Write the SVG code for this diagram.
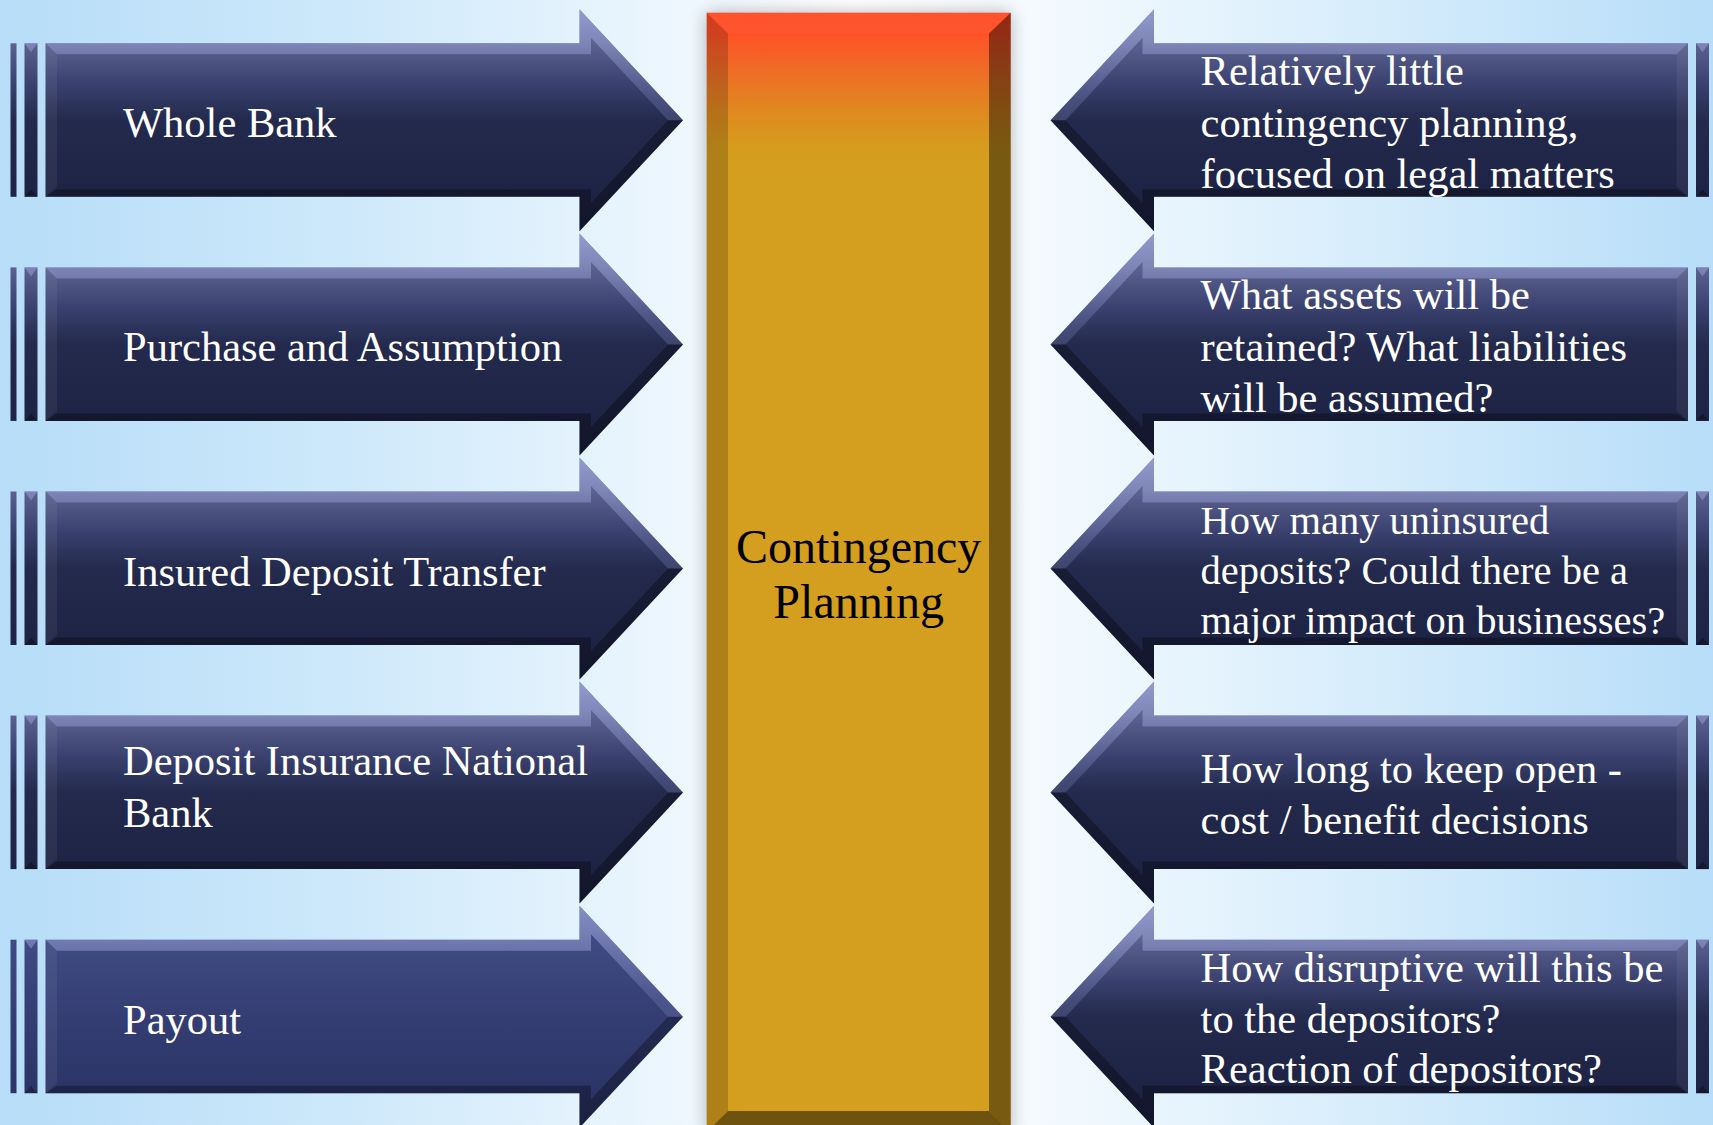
<svg xmlns="http://www.w3.org/2000/svg" xmlns:xlink="http://www.w3.org/1999/xlink" width="1713" height="1125" viewBox="0 0 1713 1125">
<style>
.lbl{font-family:"Liberation Serif","Times New Roman",serif;font-size:42.5px;fill:#FFFFFF}
.sm{font-size:40.5px}
.ctr{font-family:"Liberation Serif","Times New Roman",serif;font-size:48px;fill:#000000;text-anchor:middle}
.lit{fill:url(#gLit)}
.side{fill:#FFFFFF;fill-opacity:0.06}
.dark{fill:#000000;fill-opacity:0.3}
</style>
<defs>
  <linearGradient id="gBg" x1="0" y1="0" x2="1" y2="0">
    <stop offset="0" stop-color="#B7DDF8"/>
    <stop offset="0.2" stop-color="#CDE8FA"/>
    <stop offset="0.4" stop-color="#EEF7FE"/>
    <stop offset="0.5" stop-color="#FFFFFF"/>
    <stop offset="0.62" stop-color="#F2F9FE"/>
    <stop offset="0.82" stop-color="#D3EBFB"/>
    <stop offset="1" stop-color="#B7DDF8"/>
  </linearGradient>
  <linearGradient id="gA" gradientUnits="userSpaceOnUse" x1="0" y1="-34" x2="0" y2="188">
    <stop offset="0" stop-color="#727AAD"/>
    <stop offset="0.153" stop-color="#5B628F"/>
    <stop offset="0.33" stop-color="#3B4270"/>
    <stop offset="0.5" stop-color="#232A4D"/>
    <stop offset="1" stop-color="#1B2040"/>
  </linearGradient>
  <linearGradient id="gP" gradientUnits="userSpaceOnUse" x1="0" y1="-34" x2="0" y2="188">
    <stop offset="0" stop-color="#505B94"/>
    <stop offset="0.153" stop-color="#404B83"/>
    <stop offset="0.5" stop-color="#343E73"/>
    <stop offset="1" stop-color="#283060"/>
  </linearGradient>
  <linearGradient id="gLit" gradientUnits="userSpaceOnUse" x1="0" y1="-34" x2="0" y2="60">
    <stop offset="0" stop-color="#A9B1E2" stop-opacity="0.6"/>
    <stop offset="0.36" stop-color="#9AA2D6" stop-opacity="0.55"/>
    <stop offset="1" stop-color="#7C85BC" stop-opacity="0.3"/>
  </linearGradient>
  <linearGradient id="gFace" gradientUnits="userSpaceOnUse" x1="0" y1="12.7" x2="0" y2="1132">
    <stop offset="0" stop-color="#FF4A25"/>
    <stop offset="0.018" stop-color="#FF5026"/>
    <stop offset="0.051" stop-color="#EF6C27"/>
    <stop offset="0.087" stop-color="#E0881F"/>
    <stop offset="0.118" stop-color="#D69B1E"/>
    <stop offset="0.136" stop-color="#D49E1E"/>
    <stop offset="1" stop-color="#D49E1E"/>
  </linearGradient>
  <filter id="shadow" x="-20%" y="-5%" width="140%" height="110%">
    <feGaussianBlur stdDeviation="9"/>
  </filter>
  <g id="arrow">
    <rect x="10.5" y="0" width="6" height="153.5"/>
    <rect x="24.5" y="0" width="13" height="153.5"/>
    <path d="M24.5,0 H37.5 L31,9 Z" class="lit"/>
    <path d="M24.5,153.5 H37.5 L31,146 Z" class="dark"/>
    <path d="M45.5,0 H579.5 V-34 L683,77 L579.5,188 V153.5 H45.5 Z"/>
    <path class="lit" d="M45.5,0 H579.5 V-34 L683,77 L668,77 L591,-5.5 V11 H57 Z"/>
    <path class="side" d="M45.5,0 L57,11 V143 L45.5,153.5 Z"/>
    <path class="dark" d="M45.5,153.5 L57,146 H591 V159.6 L668,77 H683 L579.5,188 V153.5 Z"/>
  </g>
</defs>

<rect x="0" y="0" width="1713" height="1125" fill="url(#gBg)"/>

<g id="center-contingency-planning">
  <rect x="706.7" y="12.7" width="304" height="1120" fill="#000000" opacity="0.28" filter="url(#shadow)"/>
  <rect x="706.7" y="12.7" width="304" height="1120" fill="url(#gFace)"/>
  <path d="M706.7,12.7 L728,33.5 V1111 L706.7,1132 Z" fill="#000000" fill-opacity="0.18"/>
  <path d="M1010.7,12.7 L989,33.5 V1111 L1010.7,1132 Z" fill="#000000" fill-opacity="0.43"/>
  <path d="M706.7,1132 L728,1111 H989 L1010.7,1132 Z" fill="#000000" fill-opacity="0.48"/>
  <path d="M706.7,12.7 H1010.7 L989,33.5 H728 Z" fill="#FFFFFF" fill-opacity="0.04"/>
  <text class="ctr" x="858.7" y="563">Contingency</text>
  <text class="ctr" x="858.7" y="618">Planning</text>
</g>

<g id="left-whole-bank">
  <use xlink:href="#arrow" href="#arrow" fill="url(#gA)" transform="translate(0,43.3)"/>
  <text class="lbl" x="123" y="137">Whole Bank</text>
</g>
<g id="left-purchase-and-assumption">
  <use xlink:href="#arrow" href="#arrow" fill="url(#gA)" transform="translate(0,267.4)"/>
  <text class="lbl" x="123" y="361">Purchase and Assumption</text>
</g>
<g id="left-insured-deposit-transfer">
  <use xlink:href="#arrow" href="#arrow" fill="url(#gA)" transform="translate(0,491.5)"/>
  <text class="lbl" x="123" y="585.5">Insured Deposit Transfer</text>
</g>
<g id="left-dinb">
  <use xlink:href="#arrow" href="#arrow" fill="url(#gA)" transform="translate(0,715.6)"/>
  <text class="lbl" x="123" y="774.5">Deposit Insurance National</text>
  <text class="lbl" x="123" y="826.5">Bank</text>
</g>
<g id="left-payout">
  <use xlink:href="#arrow" href="#arrow" fill="url(#gP)" transform="translate(0,939.7)"/>
  <text class="lbl" x="123" y="1033.5">Payout</text>
</g>

<g id="right-whole-bank-note">
  <use xlink:href="#arrow" href="#arrow" fill="url(#gA)" transform="translate(1733.5,43.3) scale(-1,1)"/>
  <text class="lbl" x="1200.6" y="85">Relatively little</text>
  <text class="lbl" x="1200.6" y="136.5">contingency planning,</text>
  <text class="lbl" x="1200.6" y="188">focused on legal matters</text>
</g>
<g id="right-pa-note">
  <use xlink:href="#arrow" href="#arrow" fill="url(#gA)" transform="translate(1733.5,267.4) scale(-1,1)"/>
  <text class="lbl" x="1200.6" y="309">What assets will be</text>
  <text class="lbl" x="1200.6" y="360.5">retained? What liabilities</text>
  <text class="lbl" x="1200.6" y="412">will be assumed?</text>
</g>
<g id="right-idt-note">
  <use xlink:href="#arrow" href="#arrow" fill="url(#gA)" transform="translate(1733.5,491.5) scale(-1,1)"/>
  <text class="lbl sm" x="1200.6" y="534">How many uninsured</text>
  <text class="lbl sm" x="1200.6" y="584">deposits? Could there be a</text>
  <text class="lbl sm" x="1200.6" y="634">major impact on businesses?</text>
</g>
<g id="right-dinb-note">
  <use xlink:href="#arrow" href="#arrow" fill="url(#gA)" transform="translate(1733.5,715.6) scale(-1,1)"/>
  <text class="lbl" x="1200.6" y="783">How long to keep open -</text>
  <text class="lbl" x="1200.6" y="833.5">cost / benefit decisions</text>
</g>
<g id="right-payout-note">
  <use xlink:href="#arrow" href="#arrow" fill="url(#gA)" transform="translate(1733.5,939.7) scale(-1,1)"/>
  <text class="lbl" x="1200.6" y="982">How disruptive will this be</text>
  <text class="lbl" x="1200.6" y="1032.5">to the depositors?</text>
  <text class="lbl" x="1200.6" y="1083">Reaction of depositors?</text>
</g>

<g id="connectors"></g>
</svg>
